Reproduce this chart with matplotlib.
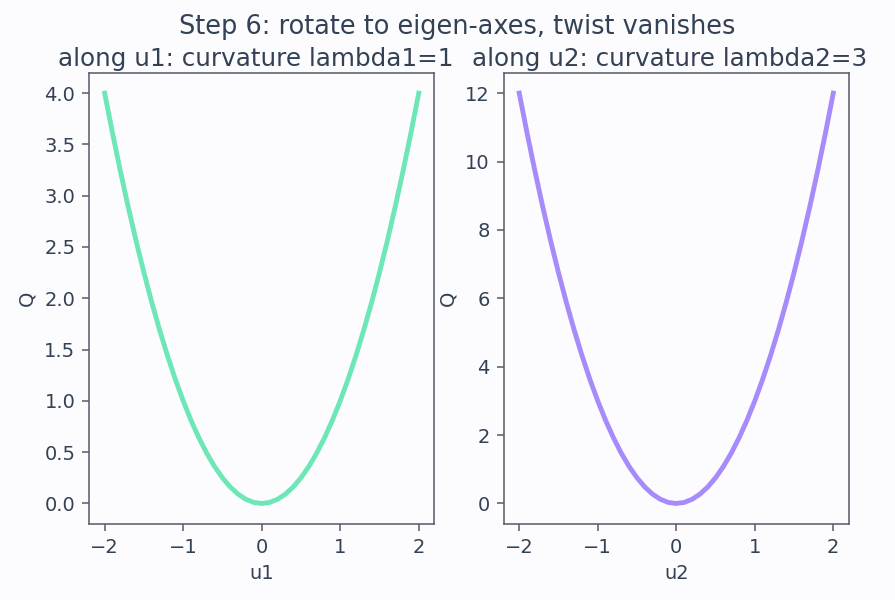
import matplotlib
matplotlib.use("Agg")
import matplotlib.pyplot as plt

u_values = [-2.0, -1.9, -1.8, -1.7, -1.6, -1.5, -1.4, -1.3, -1.2, -1.1, -1.0,
            -0.9, -0.8, -0.7, -0.6, -0.5, -0.4, -0.3, -0.2, -0.1, 0.0,
            0.1, 0.2, 0.3, 0.4, 0.5, 0.6, 0.7, 0.8, 0.9, 1.0,
            1.1, 1.2, 1.3, 1.4, 1.5, 1.6, 1.7, 1.8, 1.9, 2.0]
q_u1 = [4.0, 3.61, 3.24, 2.89, 2.56, 2.25, 1.96, 1.69, 1.44, 1.21, 1.0,
        0.81, 0.64, 0.49, 0.36, 0.25, 0.16, 0.09, 0.04, 0.01, 0.0,
        0.01, 0.04, 0.09, 0.16, 0.25, 0.36, 0.49, 0.64, 0.81, 1.0,
        1.21, 1.44, 1.69, 1.96, 2.25, 2.56, 2.89, 3.24, 3.61, 4.0]
q_u2 = [12.0, 10.83, 9.72, 8.67, 7.68, 6.75, 5.88, 5.07, 4.32, 3.63, 3.0,
        2.43, 1.92, 1.47, 1.08, 0.75, 0.48, 0.27, 0.12, 0.03, 0.0,
        0.03, 0.12, 0.27, 0.48, 0.75, 1.08, 1.47, 1.92, 2.43, 3.0,
        3.63, 4.32, 5.07, 5.88, 6.75, 7.68, 8.67, 9.72, 10.83, 12.0]

suptitle = "Step 6: rotate to eigen-axes, twist vanishes"
titles = ["along u1: curvature lambda1=1", "along u2: curvature lambda2=3"]
xlabels = ["u1", "u2"]
ylabel = "Q"
colors = ["#6ee7b7", "#a78bfa"]

bg = "#fcfcfe"
text_c = "#334155"
spine_c = "#5b5b6b"

plt.rcParams.update({
    "font.size": 10,
    "text.color": text_c,
    "axes.labelcolor": text_c,
    "xtick.color": spine_c,
    "ytick.color": spine_c,
    "xtick.labelcolor": text_c,
    "ytick.labelcolor": text_c,
    "axes.edgecolor": spine_c,
})

dpi = 140
fig, axes = plt.subplots(1, 2, figsize=(895 / dpi, 600 / dpi), dpi=dpi)
fig.patch.set_facecolor(bg)
fig.subplots_adjust(left=0.0994, right=0.9486, bottom=0.1267, top=0.879, wspace=0.2)
for ax, q, c, t, xl in zip(axes, [q_u1, q_u2], colors, titles, xlabels):
    ax.set_facecolor(bg)
    ax.plot(u_values, q, color=c, linewidth=2.5)
    ax.set_title(t, fontsize=12.7, color=text_c, pad=3.5, x=0.482)
    ax.set_xlabel(xl)
    ax.set_ylabel(ylabel)
axes[0].set_yticks([0.0, 0.5, 1.0, 1.5, 2.0, 2.5, 3.0, 3.5, 4.0])
fig.suptitle(suptitle, fontsize=13.2, color=text_c, x=0.511, y=0.977)
fig.savefig("out.png", dpi=dpi, facecolor=bg)
